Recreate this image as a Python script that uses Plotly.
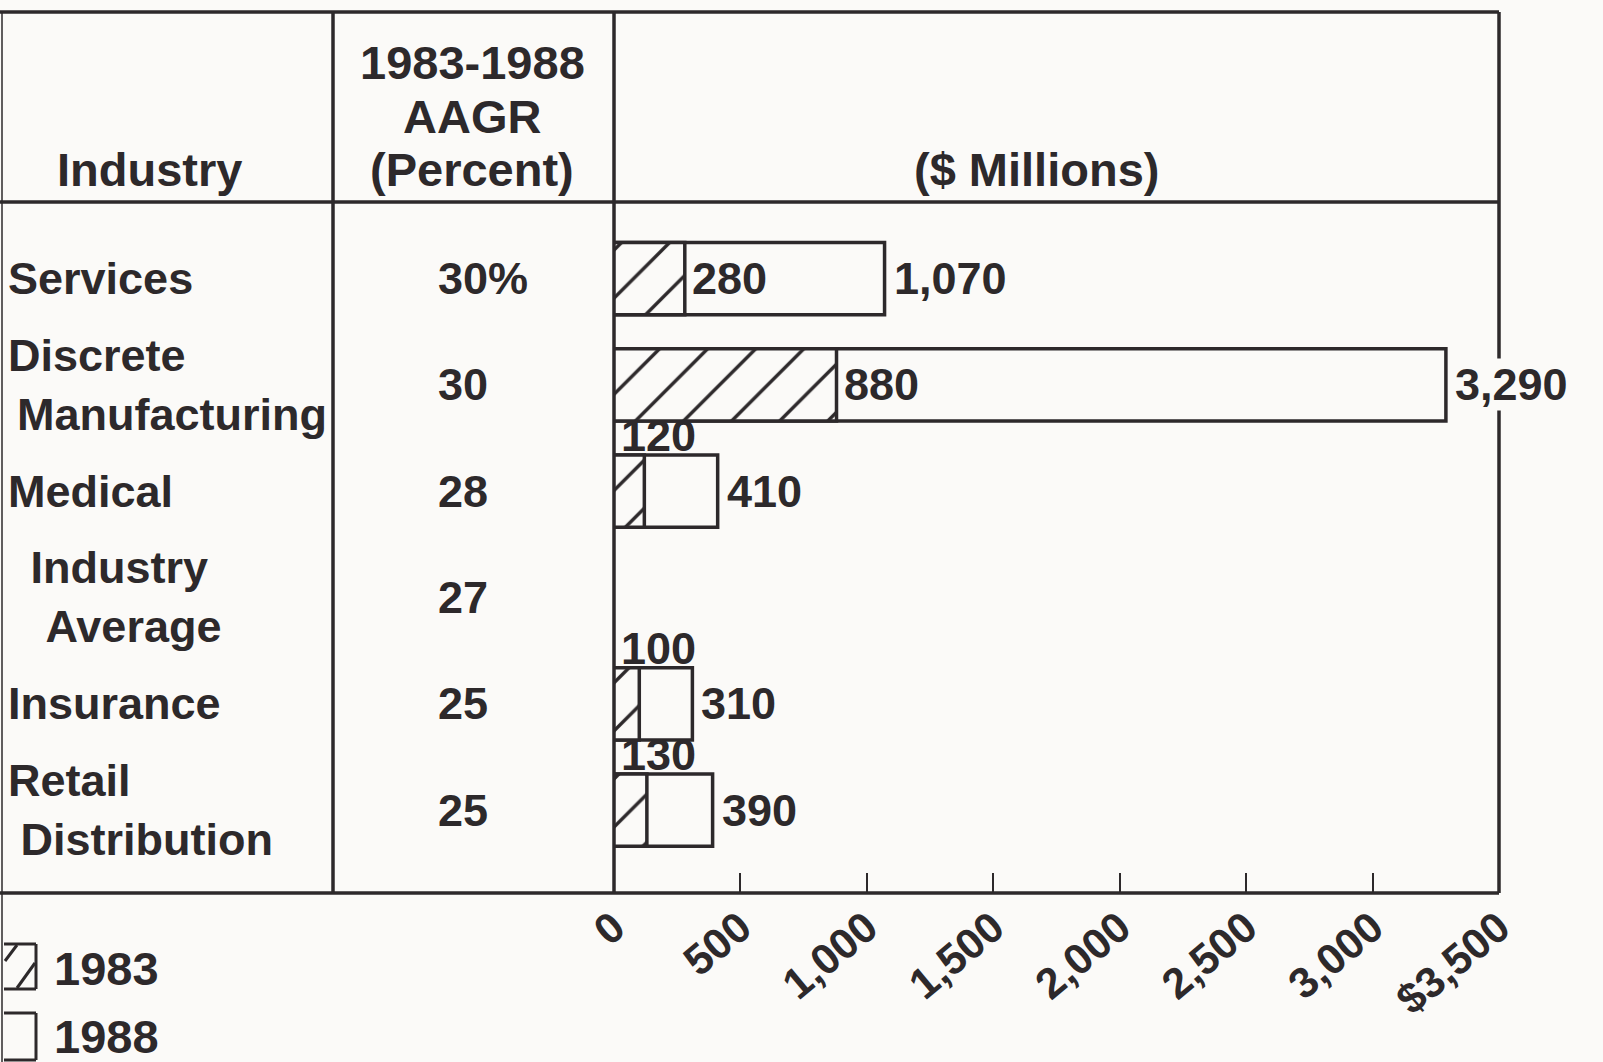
import plotly.graph_objects as go

# ---------------- data ----------------
industries = ["Services", "Discrete<br>&#8201;Manufacturing", "Medical",
              "&#8194;Industry<br>&nbsp;&nbsp;&nbsp;Average", "Insurance",
              "Retail<br>&nbsp;Distribution"]
aagr = ["30%", "30", "28", "27", "25", "25"]
v1983 = [280, 880, 120, None, 100, 130]
v1988 = [1070, 3290, 410, None, 310, 390]
tick_vals = [0, 500, 1000, 1500, 2000, 2500, 3000, 3500]
tick_text = ["0", "500", "1,000", "1,500", "2,000", "2,500", "3,000", "$3,500"]
legend_labels = ["1983", "1988"]

# ---------------- style ----------------
W, H = 1603, 1062
INK = "#2d292b"
BG = "#fbfaf8"
FONT = "Liberation Sans"
FS = 45

def px(x):
    return x / W

def py(y):
    return 1 - y / H

rows = list(range(len(industries)))

def fmt(v):
    return f"{v:,}"

fig = go.Figure()

# 1988 bars (outline)
fig.add_trace(go.Bar(
    y=rows, x=v1988, orientation="h", width=0.68,
    marker=dict(color=BG, line=dict(color=INK, width=3.5)),
    name=legend_labels[1], showlegend=False, hoverinfo="skip",
))
# 1983 bars (hatched)
fig.add_trace(go.Bar(
    y=rows, x=v1983, orientation="h", width=0.68,
    marker=dict(color=BG, line=dict(color=INK, width=3.5),
                pattern=dict(shape="/", fgcolor=INK, fgopacity=1, bgcolor=BG,
                             size=34, solidity=0.1)),
    name=legend_labels[0], showlegend=False, hoverinfo="skip",
))

ann = []
LF = dict(family=FONT, size=FS, color=INK, weight="bold")
# value labels
for i in rows:
    if v1988[i] is None:
        continue
    ann.append(dict(x=v1988[i], y=i, xref="x", yref="y", text=fmt(v1988[i]),
                    xanchor="left", yanchor="middle", xshift=8, showarrow=False,
                    bgcolor=BG, borderpad=0, font=LF))
    if v1983[i] >= 250:
        ann.append(dict(x=v1983[i], y=i, xref="x", yref="y", text=fmt(v1983[i]),
                        xanchor="left", yanchor="middle", xshift=5, showarrow=False,
                        font=LF))
    else:
        ann.append(dict(x=0, y=i - 0.52, xref="x", yref="y", text=fmt(v1983[i]),
                        xanchor="left", yanchor="middle", xshift=5, showarrow=False,
                        font=LF))

# row labels and AAGR
for i in rows:
    ann.append(dict(x=px(6), y=i, xref="paper", yref="y", text=industries[i],
                    xanchor="left", yanchor="middle", align="left", showarrow=False,
                    font=LF))
    ann.append(dict(x=px(436), y=i, xref="paper", yref="y", text=aagr[i],
                    xanchor="left", yanchor="middle", showarrow=False, font=LF))

# header texts
HF = dict(family=FONT, size=47, color=INK, weight="bold")
ann.append(dict(x=px(149), y=py(169), xref="paper", yref="paper", text="Industry",
                xanchor="center", yanchor="middle", showarrow=False, font=HF))
for txt, yy in [("1983-1988", 63), ("AAGR", 116), ("(Percent)", 169)]:
    ann.append(dict(x=px(472), y=py(yy), xref="paper", yref="paper", text=txt,
                    xanchor="center", yanchor="middle", showarrow=False, font=HF))
ann.append(dict(x=px(1036), y=py(169), xref="paper", yref="paper", text="($ Millions)",
                xanchor="center", yanchor="middle", showarrow=False, font=HF))

# legend texts
ann.append(dict(x=px(52), y=py(968), xref="paper", yref="paper", text=legend_labels[0],
                xanchor="left", yanchor="middle", showarrow=False, font=HF))
ann.append(dict(x=px(52), y=py(1036), xref="paper", yref="paper", text=legend_labels[1],
                xanchor="left", yanchor="middle", showarrow=False, font=HF))

# table lines
shapes = []
def hline(y, x0, x1, w=3.5):
    shapes.append(dict(type="line", xref="paper", yref="paper", x0=px(x0), x1=px(x1),
                       y0=py(y), y1=py(y), line=dict(color=INK, width=w), layer="below"))
def vline(x, y0, y1, w=3.5):
    shapes.append(dict(type="line", xref="paper", yref="paper", x0=px(x), x1=px(x),
                       y0=py(y0), y1=py(y1), line=dict(color=INK, width=w), layer="below"))

hline(12, 0, 1499)
hline(202, 0, 1499)
hline(893, 0, 1499)
vline(2, 12, 1062, 1.5)
vline(333, 12, 893)
vline(614, 12, 893)
vline(1499, 12, 893)

# legend swatches
def seg(x0, y0, x1, y1, w=3):
    shapes.append(dict(type="line", xref="paper", yref="paper", x0=px(x0), x1=px(x1),
                       y0=py(y0), y1=py(y1), line=dict(color=INK, width=w)))
seg(4, 944, 36, 944); seg(36, 944, 36, 989); seg(4, 989, 36, 989)
seg(5, 961, 17, 945); seg(17, 988, 35, 963)
seg(4, 1013, 36, 1013); seg(36, 1013, 36, 1060); seg(4, 1060, 36, 1060)

fig.update_layout(
    width=W, height=H,
    margin=dict(l=0, r=0, t=0, b=0, autoexpand=False),
    paper_bgcolor=BG, plot_bgcolor=BG,
    barmode="overlay",
    showlegend=False,
    annotations=ann,
    shapes=shapes,
    xaxis=dict(domain=[px(614), px(1499)], range=[0, 3500], showgrid=False,
               zeroline=False, showline=False, automargin=False,
               tickmode="array", tickvals=tick_vals, ticktext=tick_text,
               ticks="inside", ticklen=20, tickwidth=2, tickcolor=INK,
               tickangle=-40,
               tickfont=dict(family=FONT, size=43, color=INK, weight="bold"),
               fixedrange=True),
    yaxis=dict(domain=[py(893), py(202)], range=[5.78, -0.72], visible=False,
               automargin=False, fixedrange=True),
)

fig.write_html("out.html")
